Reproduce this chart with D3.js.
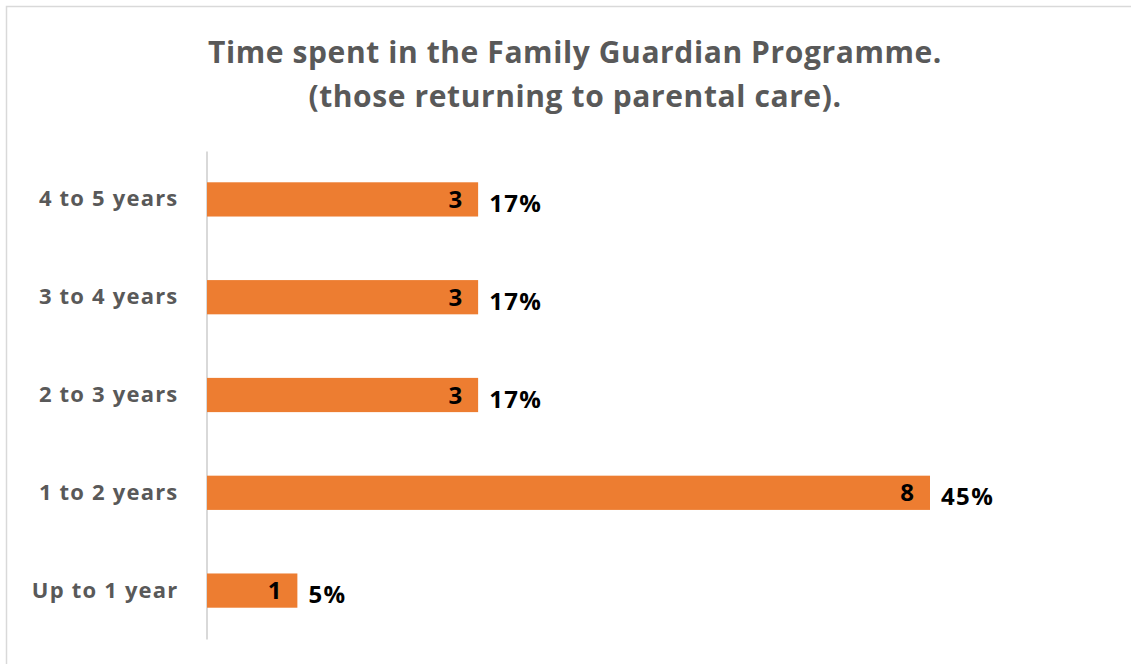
<!DOCTYPE html>
<html>
<head>
<meta charset="utf-8">
<script src="https://cdn.jsdelivr.net/npm/d3@7"></script>
<style>
  html, body { margin: 0; padding: 0; background: #fff; }
  svg { display: block; font-family: "Open Sans", Lato, sans-serif; }
</style>
</head>
<body>
<svg id="chart" width="1131" height="664"></svg>
<script>
// Duration bands, bottom to top as drawn
const categories = ["Up to 1 year", "1 to 2 years", "2 to 3 years", "3 to 4 years", "4 to 5 years"];
const counts = [1, 8, 3, 3, 3];
const percentLabels = ["5%", "45%", "17%", "17%", "17%"];
const titleLines = ["Time spent in the Family Guardian Programme.", "(those returning to parental care)."];

const FONT = "'Open Sans', Lato, sans-serif";
const svg = d3.select("#chart");
const W = 1131, H = 664;

// Chart frame
svg.append("rect")
  .attr("x", 6.5).attr("y", 6.5)
  .attr("width", W + 10).attr("height", H + 10)
  .attr("fill", "#fff").attr("stroke", "#d9d9d9").attr("stroke-width", 1.5);

// Title
svg.append("g").selectAll("text").data(titleLines).join("text")
  .attr("x", 575).attr("y", (d, i) => 63 + i * 44)
  .attr("text-anchor", "middle")
  .attr("font-family", FONT)
  .attr("font-size", 30).attr("font-weight", 700)
  .attr("letter-spacing", 0.6)
  .attr("fill", "#595959")
  .text(d => d);

const x = d3.scaleLinear().domain([0, 8]).range([207, 930]);
const y = d3.scaleBand().domain(categories.slice().reverse())
  .range([151, 639]).paddingInner(0.65).paddingOuter(0.32);

// Category axis
const yAxis = d3.axisLeft(y).tickSize(0).tickPadding(28);
const gy = svg.append("g").attr("transform", "translate(206.5,0)").call(yAxis);
gy.select(".domain").attr("stroke", "#d9d9d9").attr("stroke-width", 2);
gy.selectAll("text")
  .attr("font-family", FONT)
  .attr("font-size", 22).attr("font-weight", 700)
  .attr("letter-spacing", 1.2)
  .attr("fill", "#595959");

const rows = categories.map((c, i) => ({ c, v: counts[i], p: percentLabels[i] }));

// Bars
svg.append("g").selectAll("rect").data(rows).join("rect")
  .attr("x", x(0))
  .attr("y", d => y(d.c))
  .attr("width", d => x(d.v) - x(0))
  .attr("height", y.bandwidth())
  .attr("fill", "#ed7d31");

// Counts inside the bar ends
svg.append("g").selectAll("text").data(rows).join("text")
  .attr("x", d => x(d.v) - 16)
  .attr("y", d => y(d.c) + y.bandwidth() / 2)
  .attr("dy", "0.36em")
  .attr("text-anchor", "end")
  .attr("font-family", FONT)
  .attr("font-size", 24).attr("font-weight", 700)
  .attr("fill", "#000")
  .text(d => d.v);

// Share labels beyond the bars
svg.append("g").selectAll("text").data(rows).join("text")
  .attr("x", d => x(d.v) + 11)
  .attr("y", d => y(d.c) + y.bandwidth() / 2 + 4)
  .attr("dy", "0.36em")
  .attr("font-family", FONT)
  .attr("font-size", 24).attr("font-weight", 700)
  .attr("letter-spacing", 1.4)
  .attr("fill", "#000")
  .text(d => d.p);
</script>
</body>
</html>
